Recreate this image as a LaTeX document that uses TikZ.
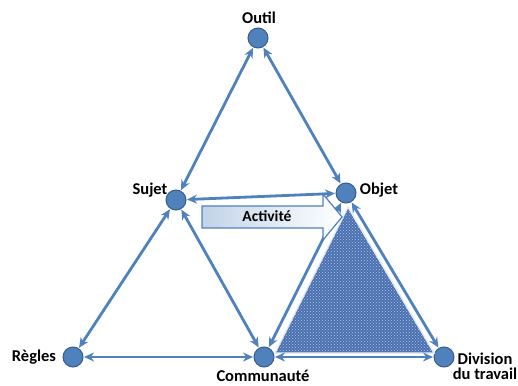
\documentclass[tikz,border=0pt]{standalone}
\usepackage{fontspec}
\setmainfont{Carlito}
\usetikzlibrary{arrows.meta,patterns}
\definecolor{lblue}{HTML}{4F81BD}
\definecolor{dblue}{HTML}{385D8A}
\definecolor{tfill}{HTML}{4B70B0}
\begin{document}
\begin{tikzpicture}[x=1pt,y=-1pt,
  pt/.style={circle,fill=lblue,draw=dblue,line width=1pt,minimum size=20pt,inner sep=0pt},
  lab/.style={font=\fontsize{16.5}{18}\selectfont\bfseries,inner sep=0pt,align=center},
  link/.style={draw=lblue,line width=2.8pt,{Stealth[length=10pt,width=9pt]}-{Stealth[length=10pt,width=9pt]},shorten <=0.5pt,shorten >=0.5pt}]
\useasboundingbox (0,0) rectangle (518,385);
\node[pt] (outil) at (258,38) {};
\node[pt] (sujet) at (176,200) {};
\node[pt] (objet) at (346,193) {};
\node[pt] (regles) at (73,357) {};
\node[pt] (comm) at (264,357) {};
\node[pt] (div) at (444,357) {};
% triangle
\coordinate (ta) at (348,207);
\coordinate (tb) at (275,353);
\coordinate (tc) at (434,353);
\fill[tfill] (ta) -- (tb) -- (tc) -- cycle;
\fill[pattern=crosshatch dots,pattern color=white!55!lblue] (ta) -- (tb) -- (tc) -- cycle;
\draw[white!85!lblue,line width=1.5pt,line join=miter] (ta) -- (tb) -- (tc) -- cycle;
\node[lab] (l1) at (259,18) {Outil};
\node[lab] (l2) at (150,190) {Sujet};
\node[lab] (l3) at (379,190) {Objet};
\node[lab] (l4) at (34,357) {Règles};
\node[lab] (l5) at (263,376) {Communauté};
\node[lab] (l6) at (485,366) {Division\\[-3pt]du travail};
\draw[link] (outil) -- (sujet);
\draw[link] (outil) -- (objet);
\draw[link] (sujet) -- (objet);
\draw[link] (sujet) -- (regles);
\draw[link] (sujet) -- (comm);
\draw[link] (regles) -- (comm);
\draw[link] (comm) -- (div);
\draw[link] (objet) -- (comm);
\draw[link] (objet) -- (div);
% activity arrow
\draw[lblue,line width=1.2pt,left color=lblue!35,right color=white]
  (202,206) -- (323,206) -- (323,194) -- (342,217) -- (323,240) -- (323,228) -- (202,228) -- cycle;
\node[font=\fontsize{15.5}{17}\selectfont\bfseries,inner sep=0pt] (act) at (267,216) {Activité};
\end{tikzpicture}
\end{document}
